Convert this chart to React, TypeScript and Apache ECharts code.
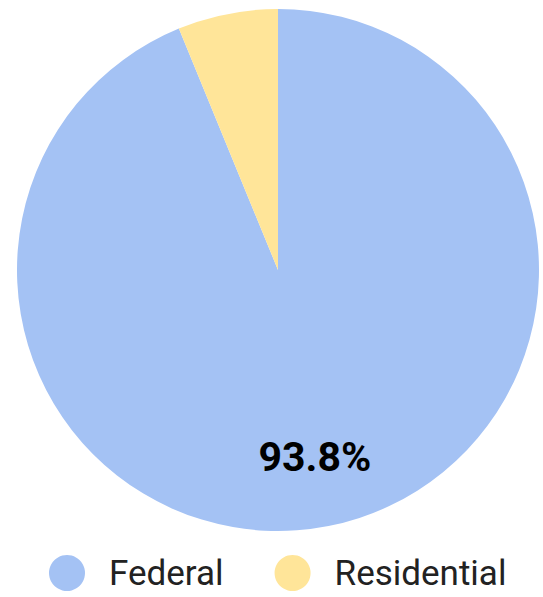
import React, { useEffect, useRef } from "react";
import * as echarts from "echarts";

const categories = ["Federal", "Residential"];
const values = [93.8, 6.2];
const colors = ["#a4c2f4", "#ffe599"];
const labelShown = [true, false];

export default function App() {
  const ref = useRef<HTMLDivElement>(null);
  useEffect(() => {
    document.body.style.margin = "0";
    const chart = echarts.init(ref.current!, null, { renderer: "svg" });
    const baseData = categories.map((name, i) => ({
      name,
      value: values[i],
      itemStyle: { color: colors[i] },
    }));
    chart.setOption({
      animation: false,
      legend: {
        left: 44,
        top: 550,
        icon: "circle",
        itemWidth: 36,
        itemHeight: 36,
        itemGap: 51,
        data: categories,
        textStyle: {
          fontFamily: "Roboto",
          fontSize: 35,
          color: "#222",
          padding: [0, 0, 0, 19],
        },
      },
      series: [
        {
          type: "pie",
          center: [278, 270],
          radius: [0, 261],
          startAngle: 90,
          clockwise: true,
          silent: true,
          label: { show: false },
          labelLine: { show: false },
          data: baseData,
        },
        {
          type: "pie",
          center: [278, 270],
          radius: [115, 261],
          startAngle: 90,
          clockwise: true,
          silent: true,
          percentPrecision: 1,
          itemStyle: { color: "rgba(0,0,0,0)" },
          labelLine: { show: false },
          label: {
            show: true,
            position: "inside",
            formatter: "{d}%",
            fontFamily: "Roboto",
            fontSize: 41,
            fontWeight: "bold",
            color: "#000",
          },
          data: categories.map((name, i) => ({
            name,
            value: values[i],
            itemStyle: { color: "rgba(0,0,0,0)" },
            label: { show: labelShown[i] },
          })),
        },
      ],
    });
    return () => chart.dispose();
  }, []);
  return <div ref={ref} style={{ width: 543, height: 597 }} />;
}
